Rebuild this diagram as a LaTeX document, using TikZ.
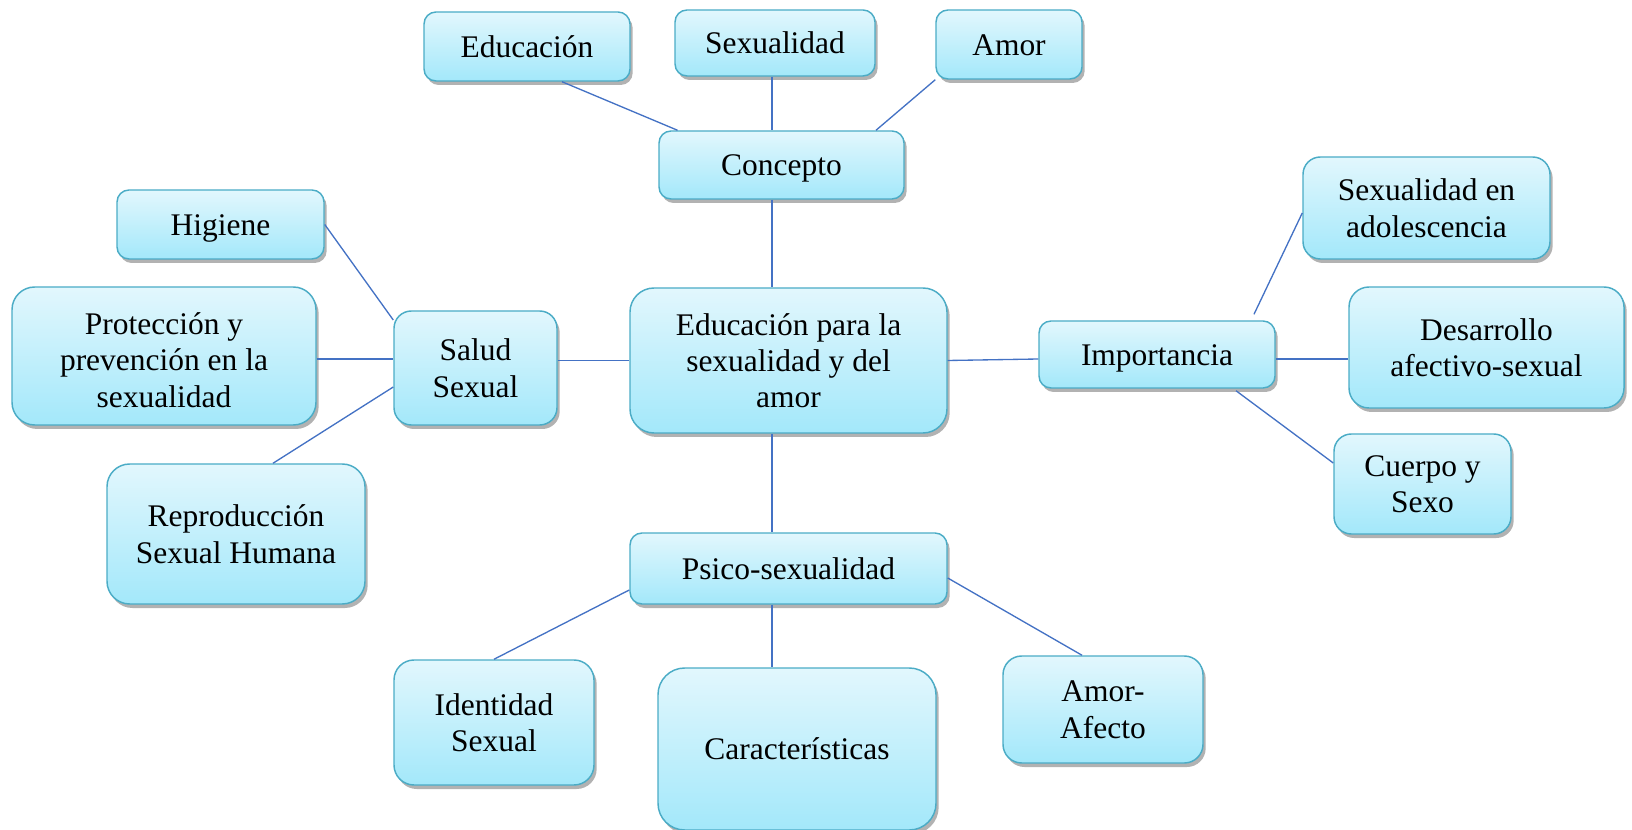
\documentclass[tikz,border=0pt]{standalone}
\usepackage{fontspec}
\setmainfont{Liberation Serif}
\usetikzlibrary{calc,shadows}

\definecolor{linkblue}{RGB}{68,114,196}
\definecolor{boxedge}{RGB}{75,172,198}
\definecolor{boxtop}{RGB}{226,247,253}
\definecolor{boxbottom}{RGB}{163,232,250}

\begin{document}
\begin{tikzpicture}[
    x=0.75pt, y=-0.75pt,
    topic/.style={draw=boxedge, line width=1.1pt, rounded corners=#1,
      top color=boxtop, bottom color=boxbottom, align=center, inner sep=2pt,
      font=\fontsize{23.6}{27.3}\selectfont, text depth=0pt,
      drop shadow={shadow xshift=2pt, shadow yshift=-3pt, opacity=0.3, fill=black}},
    topic/.default=9pt,
    oneline/.style={text height=21pt, text depth=5.1pt},
    boxsize/.style 2 args={minimum width=#1*0.75pt, minimum height=#2*0.75pt},
    link/.style={draw=linkblue, line width=1pt},
]
\useasboundingbox (0,0) rectangle (1632,830);

% Central topic
\node[topic=18pt, boxsize={317}{145}] (central) at (788.5,360.5) {Educación para la\\sexualidad y del\\amor};

% Concepto branch
\node[topic, oneline, boxsize={245}{68}] (conc) at (781.5,165) {Concepto};
\node[topic, oneline, boxsize={206}{69}] (edu) at (527,46.5) {Educación};
\node[topic, oneline, boxsize={200}{66}] (sexu) at (775,43) {Sexualidad};
\node[topic, oneline, boxsize={146}{69}] (amor) at (1009,44.5) {Amor};
\draw[link] ($(edu.south)+(35,0)$) -- ($(conc.north)+(-104,0)$);
\draw[link] ($(sexu.south)+(-3,0)$) -- ($(conc.north)+(-9.5,0)$);
\draw[link] (amor.south west) -- ($(conc.north)+(94.5,0)$);
\draw[link] ($(conc.south)+(-9.5,0)$) -- ($(central.north)+(-16.5,0)$);

% Salud Sexual branch
\node[topic=13pt, boxsize={163}{114}] (salud) at (475.5,368) {Salud\\Sexual};
\node[topic, oneline, boxsize={207}{69}] (higiene) at (220.5,224.5) {Higiene};
\node[topic=17pt, boxsize={304}{138}] (prot) at (164,356) {\rule{0pt}{22.5pt}Protección y\\prevención en la\\sexualidad};
\node[topic=17pt, boxsize={258}{140}] (repro) at (236,534) {Reproducción\\Sexual Humana};
\draw[link] (higiene.east) -- ($(salud.west)+(0,-48)$);
\draw[link] ($(prot.east)+(0,3)$) -- ($(prot.east -| salud.west)+(0,3)$);
\draw[link] ($(repro.north)+(37,0)$) -- ($(salud.west)+(0,19)$);
\draw[link] (central.west -| salud.east) -- (central.west);

% Importancia branch
\node[topic, oneline, boxsize={236}{67}] (imp) at (1157,354.5) {Importancia};
\node[topic=13pt, boxsize={247}{102}] (adol) at (1426.5,208) {Sexualidad en\\adolescencia};
\node[topic=15pt, boxsize={275}{121}] (desa) at (1486.5,347.5) {Desarrollo\\afectivo-sexual};
\node[topic=13pt, boxsize={177}{100}] (cuerpo) at (1422.5,484) {Cuerpo y\\Sexo};
\draw[link] (central.east) -- ($(imp.west)+(0,4.5)$);
\draw[link] ($(imp.north)+(97,-6)$) -- ($(adol.west)+(0,5)$);
\draw[link] ($(imp.east)+(0,4.5)$) -- ($(imp.east -| desa.west)+(0,4.5)$);
\draw[link] ($(imp.south)+(79,2)$) -- ($(cuerpo.west)+(0,-21)$);

% Psico-sexualidad branch
\node[topic, oneline, boxsize={317}{71}] (psico) at (788.5,568.5) {Psico-sexualidad};
\node[topic=15pt, boxsize={200}{125}] (ident) at (494,722.5) {Identidad\\Sexual};
\node[topic=20pt, oneline, boxsize={278}{162}] (caract) at (797,749) {Características};
\node[topic=14pt, boxsize={200}{107}] (afecto) at (1103,709.5) {Amor-\\Afecto};
\draw[link] ($(central.south)+(-16.5,0)$) -- ($(psico.north)+(-16.5,0)$);
\draw[link] ($(psico.west)+(0,21.5)$) -- (ident.north);
\draw[link] ($(psico.south)+(-16.5,0)$) -- ($(caract.north)+(-25,0)$);
\draw[link] ($(psico.east)+(0,9.5)$) -- ($(afecto.north)+(-21,0)$);

\end{tikzpicture}
\end{document}
